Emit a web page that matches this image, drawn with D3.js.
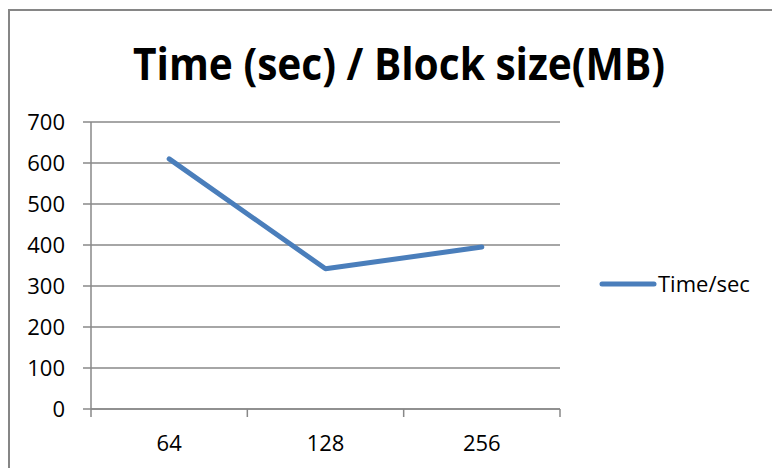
<!DOCTYPE html>
<html>
<head>
<meta charset="utf-8">
<script src="https://cdn.jsdelivr.net/npm/d3@7"></script>
<style>
  body { margin: 0; background: white; }
  text { font-family: "Open Sans", sans-serif; fill: #000; }
</style>
</head>
<body>
<div id="canvas"></div>
<script>
// DATA
const categories = ["64", "128", "256"];
const timeValues = [610, 342, 395];
const yTicks = [0, 100, 200, 300, 400, 500, 600, 700];
const seriesName = "Time/sec";
const titleText = "Time (sec) / Block size(MB)";

// DIMENSIONS
const width = 772;
const height = 468;
const margin = { top: 122, right: 212, bottom: 59, left: 91 };
const plot_width = width - margin.left - margin.right;
const plot_height = height - margin.top - margin.bottom;

// CANVAS
const canvas = d3.select("#canvas")
  .append("svg")
  .attr("width", width)
  .attr("height", height);

// chart border (runs off the right and bottom edges)
canvas.append("rect")
  .attr("x", 9)
  .attr("y", 10)
  .attr("width", 800)
  .attr("height", 500)
  .style("fill", "white")
  .style("stroke", "#868686")
  .style("stroke-width", 2);

// TITLE
canvas.append("text")
  .attr("x", 399)
  .attr("y", 80)
  .attr("text-anchor", "middle")
  .attr("textLength", 532)
  .attr("lengthAdjust", "spacingAndGlyphs")
  .style("font-size", "44px")
  .style("font-weight", "bold")
  .text(titleText);

const plot = canvas.append("g")
  .attr("transform", `translate(${margin.left},${margin.top})`);

// SCALES
const x = d3.scaleBand().domain(categories).range([0, plot_width]);
const y = d3.scaleLinear().domain([0, 700]).range([plot_height, 0]);

// GRIDLINES
plot.selectAll("line.grid")
  .data(yTicks)
  .join("line")
  .attr("class", "grid")
  .attr("x1", -8)
  .attr("x2", plot_width)
  .attr("y1", d => y(d))
  .attr("y2", d => y(d))
  .style("stroke", "#888")
  .style("stroke-width", 1.5);

// Y AXIS
plot.append("line")
  .attr("x1", 0).attr("x2", 0)
  .attr("y1", 0).attr("y2", plot_height)
  .style("stroke", "#888")
  .style("stroke-width", 1.5);

plot.selectAll("text.ylabel")
  .data(yTicks)
  .join("text")
  .attr("class", "ylabel")
  .attr("x", -26)
  .attr("y", d => y(d))
  .attr("dy", "0.35em")
  .attr("text-anchor", "end")
  .style("font-size", "22px")
  .text(d => d);

// X AXIS
plot.append("line")
  .attr("x1", 0).attr("x2", plot_width)
  .attr("y1", plot_height).attr("y2", plot_height)
  .style("stroke", "#888")
  .style("stroke-width", 1.5);

const bounds = categories.map(c => x(c)).concat([plot_width]);
plot.selectAll("line.xtick")
  .data(bounds)
  .join("line")
  .attr("class", "xtick")
  .attr("x1", d => d).attr("x2", d => d)
  .attr("y1", plot_height).attr("y2", plot_height + 8)
  .style("stroke", "#888")
  .style("stroke-width", 1.5);

plot.selectAll("text.xlabel")
  .data(categories)
  .join("text")
  .attr("class", "xlabel")
  .attr("x", d => x(d) + x.bandwidth() / 2)
  .attr("y", plot_height + 34)
  .attr("dy", "0.35em")
  .attr("text-anchor", "middle")
  .style("font-size", "22px")
  .text(d => d);

// LINE
const line = d3.line()
  .x((d, i) => x(categories[i]) + x.bandwidth() / 2)
  .y(d => y(d));

plot.append("path")
  .datum(timeValues)
  .attr("d", line)
  .style("fill", "none")
  .style("stroke", "#4A7EBB")
  .style("stroke-width", 5)
  .style("stroke-linejoin", "round")
  .style("stroke-linecap", "round");

// LEGEND
const legend = canvas.append("g")
  .attr("transform", "translate(600,284)");
legend.append("line")
  .attr("x1", 2).attr("x2", 54)
  .attr("y1", 0).attr("y2", 0)
  .style("stroke", "#4A7EBB")
  .style("stroke-width", 5)
  .style("stroke-linecap", "round");
legend.append("text")
  .attr("x", 58)
  .attr("y", 0)
  .attr("dy", "0.35em")
  .style("font-size", "22px")
  .text(seriesName);
</script>
</body>
</html>
